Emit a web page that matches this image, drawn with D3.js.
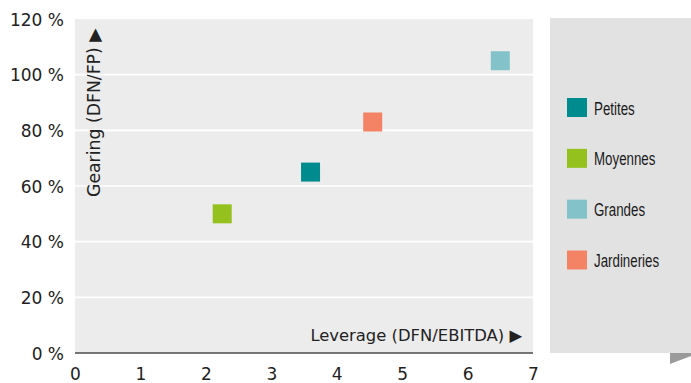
<!DOCTYPE html>
<html>
<head>
<meta charset="utf-8">
<script src="https://cdn.jsdelivr.net/npm/d3@7"></script>
<style>
  html, body { margin: 0; padding: 0; background: #ffffff; }
  svg { display: block; }
</style>
</head>
<body>
<svg id="chart" width="691" height="383"></svg>
<script>
// Leverage (DFN/EBITDA) vs gearing (DFN/FP) by company group
const groups = ["Petites", "Moyennes", "Grandes", "Jardineries"];
const leverage = [3.6, 2.25, 6.5, 4.55];
const gearing = [65, 50, 105, 83];
const groupColors = ["#008b8f", "#95c11f", "#82c2c8", "#f38364"];
const xTicks = [0, 1, 2, 3, 4, 5, 6, 7];
const yTicks = [0, 20, 40, 60, 80, 100, 120];

const svg = d3.select("#chart");
const plot = { left: 75, right: 533, top: 19, bottom: 353 };

const x = d3.scaleLinear().domain([0, 7]).range([plot.left, plot.right]);
const y = d3.scaleLinear().domain([0, 120]).range([plot.bottom, plot.top]);

const tickFont = "'DejaVu Sans', sans-serif";

// plot background
svg.append("rect")
  .attr("x", plot.left).attr("y", plot.top)
  .attr("width", plot.right - plot.left).attr("height", plot.bottom - plot.top)
  .attr("fill", "#ececec");

// legend panel with folded corner
svg.append("rect")
  .attr("x", 550).attr("y", 18)
  .attr("width", 141).attr("height", 335)
  .attr("fill", "#e2e2e2");
svg.append("path")
  .attr("d", "M670,353 L691,353 L691,356 L670,364 Z")
  .attr("fill", "#9a9a9a");

// horizontal grid lines
svg.append("g")
  .selectAll("line")
  .data(yTicks.filter(t => t > 0 && t < 120))
  .join("line")
  .attr("x1", plot.left).attr("x2", plot.right)
  .attr("y1", d => y(d)).attr("y2", d => y(d))
  .attr("stroke", "#ffffff").attr("stroke-width", 1.6);

// y axis labels
const yAxis = d3.axisLeft(y).tickValues(yTicks).tickSize(0).tickPadding(11)
  .tickFormat(d => d + " %");
const gy = svg.append("g").attr("transform", `translate(${plot.left},0)`).call(yAxis);
gy.select(".domain").remove();
gy.selectAll("text")
  .attr("font-family", tickFont).attr("font-size", 17)
  .attr("fill", "#222").attr("dy", "0.36em");

// x axis labels + baseline
const xAxis = d3.axisBottom(x).tickValues(xTicks).tickSize(0).tickPadding(15)
  .tickFormat(d3.format("d"));
const gx = svg.append("g").attr("transform", `translate(0,${plot.bottom})`).call(xAxis);
gx.select(".domain").remove();
gx.selectAll("text")
  .attr("font-family", tickFont).attr("font-size", 17)
  .attr("fill", "#222");

svg.append("line")
  .attr("x1", plot.left).attr("x2", plot.right)
  .attr("y1", y(0)).attr("y2", y(0))
  .attr("stroke", "#4a4a4a").attr("stroke-width", 1.6);

// axis titles
svg.append("text")
  .attr("x", 522).attr("y", 341)
  .attr("text-anchor", "end")
  .attr("font-family", tickFont).attr("font-size", 16.4)
  .attr("fill", "#222")
  .text("Leverage (DFN/EBITDA) \u25B6");

svg.append("text")
  .attr("transform", "translate(100,197) rotate(-90)")
  .attr("text-anchor", "start")
  .attr("font-family", tickFont).attr("font-size", 17.3)
  .attr("fill", "#222")
  .text("Gearing (DFN/FP) \u25B6");

// data markers
const size = 19;
svg.append("g")
  .selectAll("rect")
  .data(groups.map((g, i) => ({ g, lx: leverage[i], gy: gearing[i], c: groupColors[i] })))
  .join("rect")
  .attr("x", d => x(d.lx) - size / 2)
  .attr("y", d => y(d.gy) - size / 2)
  .attr("width", size).attr("height", size)
  .attr("fill", d => d.c);

// legend
const legend = svg.append("g");
const rowY = d3.scalePoint().domain(groups).range([107.5, 260]);
const item = legend.selectAll("g")
  .data(groups)
  .join("g")
  .attr("transform", d => `translate(567,${rowY(d)})`);
item.append("rect")
  .attr("x", 0).attr("y", -9.5)
  .attr("width", 20).attr("height", 19)
  .attr("fill", (d, i) => groupColors[i]);
item.append("text")
  .attr("transform", "translate(27,7) scale(0.72,1)")
  .attr("font-family", "'Liberation Sans', sans-serif")
  .attr("font-size", 18.5)
  .attr("fill", "#1a1a1a")
  .text(d => d);
</script>
</body>
</html>
